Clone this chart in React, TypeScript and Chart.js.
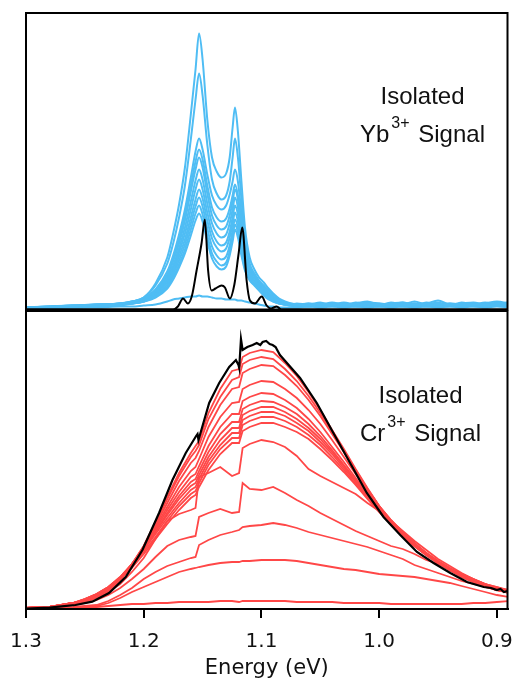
import React, { useEffect, useRef } from "react";
import { Chart, registerables } from "chart.js";

Chart.register(...registerables);

const FONT = '"Liberation Sans", Arial, Helvetica, sans-serif';
const AXIS_FONT = '"DejaVu Sans", "Liberation Sans", Arial, sans-serif';

// x axis (energy, eV), drawn reversed
const X_TICKS = [0.9, 1.0, 1.1, 1.2, 1.3];
const X_MIN = 0.891;
const X_MAX = 1.3;
const X_TITLE = "Energy (eV)";

// ---------- Top panel: Yb3+ signal ----------
const YB_ENERGY = [
  1.30, 1.28, 1.26, 1.24, 1.22, 1.21, 1.20, 1.19, 1.18, 1.175,
  1.17, 1.165, 1.16, 1.156, 1.153, 1.15, 1.146, 1.142, 1.138, 1.134,
  1.13, 1.127, 1.1245, 1.1225, 1.12, 1.117, 1.114, 1.11, 1.106, 1.102,
  1.098, 1.094, 1.09, 1.085, 1.08, 1.075, 1.07, 1.06, 1.05, 1.04,
  1.03, 1.02, 1.01, 1.00, 0.99, 0.98, 0.97, 0.96, 0.95, 0.94,
  0.93, 0.92, 0.91, 0.90, 0.89,
];
const YB_1 = [2,3,4,5,6, 8,12,26,52,76, 105,142,195,240,276, 250,190,152,138,132, 136,152,182,202,178, 128,82,52,40,32, 27,21,16,11,8, 6,5,6,5,7, 5,6,8,5,6, 7,5,6,9,5, 6,7,5,6,7];
const YB_2 = [2,3,4,5,6, 8,12,24,46,66, 92,124,170,210,236, 214,165,130,116,110, 114,128,152,171,152, 110,72,46,36,29, 24,19,15,10,7, 6,5,4,6,5, 7,5,6,4,7, 5,8,5,6,4, 7,5,6,8,6];
const YB_3 = [2,3,4,4,6, 8,11,20,38,54, 75,100,132,158,171, 160,135,114,104,100, 104,115,128,140,128, 96,66,44,35,28, 22,17,13,9,7, 5,6,5,7,4, 6,5,7,6,5, 6,4,7,5,6, 5,6,4,7,5];
const YB_4 = [2,3,3,5,5, 7,11,19,35,50, 70,94,124,148,160, 150,124,102,92,88, 91,101,114,125,114, 86,60,42,34,27, 21,16,12,9,6, 5,4,6,5,6, 4,7,5,5,6, 4,6,5,7,4, 6,5,7,5,6];
const YB_5 = [1,2,4,4,6, 7,10,18,33,48, 66,89,118,140,152, 142,116,94,84,80, 83,94,108,120,110, 82,57,40,33,26, 20,15,11,8,6, 5,5,4,6,5, 5,6,4,6,5, 7,4,5,6,5, 4,6,5,5,7];
const YB_6 = [2,2,3,5,6, 7,10,17,31,44, 61,82,108,129,140, 130,106,86,76,72, 75,86,100,112,102, 76,53,38,31,25, 19,14,10,8,6, 5,4,5,4,6, 5,4,6,5,4, 5,6,4,5,6, 5,4,6,5,5];
const YB_7 = [1,2,3,4,5, 7,9,16,29,41, 57,76,100,120,130, 120,97,78,68,64, 67,78,92,104,95, 71,50,36,29,23, 18,13,10,7,6, 5,5,3,5,4, 6,4,5,4,6, 4,5,3,6,4, 5,4,5,6,4];
const YB_8 = [1,2,3,4,5, 6,9,15,27,38, 53,70,92,110,120, 111,89,71,62,58, 61,72,86,97,88, 66,47,34,28,22, 17,12,9,7,5, 5,4,5,3,5, 4,5,4,5,3, 6,4,5,4,5, 3,5,4,4,5];
const YB_9 = [1,2,3,4,5, 6,8,14,25,36, 49,65,86,103,112, 103,81,63,54,50, 53,64,79,90,82, 61,44,32,26,21, 16,12,9,6,5, 4,4,3,5,4, 3,5,4,4,5, 3,4,5,3,4, 5,3,4,5,4];
const YB_10 = [1,2,3,3,5, 6,8,13,23,33, 45,60,80,96,104, 95,74,56,48,44, 47,58,73,85,77, 57,41,30,25,20, 15,11,8,6,5, 4,3,4,3,4, 5,3,4,3,4, 4,3,5,4,3, 4,5,3,4,4];
const YB_11 = [1,2,2,3,4, 6,8,12,21,30, 42,56,74,89,96, 88,68,51,43,40, 43,54,68,80,72, 54,39,29,24,19, 14,10,8,6,5, 4,3,3,4,3, 4,3,4,3,4, 3,4,3,3,4, 3,4,3,4,3];
const YB_12 = [1,1,2,2,3, 3,4,5,8,10, 11,12,13,13,14, 13,13,12,11,11, 10,10,10,10,9, 9,8,7,6,5, 4,3,3,2,2, 2,2,3,2,3, 2,3,2,3,2, 3,2,3,2,3, 2,3,2,3,2];
const YB_SERIES = [YB_1, YB_2, YB_3, YB_4, YB_5, YB_6, YB_7, YB_8, YB_9, YB_10, YB_11, YB_12];

const YB_BLACK_ENERGY = [1.30, 1.175, 1.171, 1.1666, 1.1625, 1.159, 1.1551, 1.1509, 1.1481, 1.1453, 1.1424, 1.139, 1.1339, 1.131, 1.1268, 1.123, 1.1195, 1.1163, 1.1126, 1.1098, 1.1055, 1.0998, 1.0956, 1.092, 1.0871, 1.083, 0.89];
const YB_BLACK = [0, 0, 3, 11, 6, 14, 39, 66, 90, 39, 19, 21, 24, 22, 11, 25, 55, 82, 29, 9, 6, 13, 4, 1, 3, 0, 0];

// ---------- Bottom panel: Cr3+ signal ----------
const CR_ENERGY = [
  1.30, 1.28, 1.26, 1.25, 1.24, 1.23, 1.22, 1.21, 1.20, 1.19,
  1.18, 1.17, 1.16, 1.156, 1.153, 1.145, 1.135, 1.125, 1.119, 1.116,
  1.11, 1.10, 1.09, 1.08, 1.07, 1.06, 1.05, 1.04, 1.03, 1.02,
  1.01, 1.00, 0.99, 0.98, 0.97, 0.96, 0.95, 0.94, 0.93, 0.92,
  0.91, 0.90, 0.89,
];
const CR_1 = [1,2,6,8,12, 18,28,44,63,87, 112,136,156,163,168, 196,220,238,240,252, 256,259,257,246,233, 217,199,179,160,140, 121,103,89,77,66, 56,48,41,35,30, 25,22,18];
const CR_2 = [1,2,6,9,13, 19,29,45,63,86, 110,133,152,158,164, 190,212,229,232,245, 249,252,250,240,228, 213,196,177,158,139, 120,103,89,76,65, 56,48,41,35,29, 25,21,19];
const CR_3 = [1,2,5,8,12, 19,29,44,62,84, 106,128,146,151,158, 182,204,220,222,236, 240,244,243,234,223, 209,193,175,157,138, 120,103,88,76,65, 55,47,40,34,29, 24,20,17];
const CR_4 = [1,2,6,9,13, 20,30,45,62,82, 102,122,138,142,150, 172,192,206,207,220, 224,228,227,220,211, 199,185,169,152,135, 118,102,88,76,65, 56,47,40,34,28, 24,20,18];
const CR_5 = [1,2,6,9,14, 21,31,45,61,80, 99,117,132,135,143, 163,182,195,195,208, 212,216,215,209,201, 190,177,162,147,131, 115,100,87,75,64, 55,47,40,33,28, 23,20,17];
const CR_6 = [1,2,6,9,14, 21,31,44,60,78, 96,113,127,130,138, 157,175,187,187,200, 204,208,207,202,195, 185,173,159,144,129, 114,99,86,74,64, 55,46,39,33,27, 23,19,17];
const CR_7 = [1,2,6,10,15, 22,32,45,60,77, 94,110,123,126,134, 152,169,181,181,194, 198,202,202,197,190, 181,170,157,143,128, 113,99,86,74,63, 54,46,39,32,27, 23,19,16];
const CR_8 = [1,2,6,10,15, 22,32,45,59,75, 91,106,119,122,130, 148,164,176,176,189, 193,197,197,193,186, 178,167,155,141,127, 112,98,85,74,63, 54,46,39,32,27, 22,19,16];
const CR_9 = [1,2,6,10,15, 22,31,43,57,72, 88,103,115,118,126, 144,160,171,171,184, 188,192,192,188,182, 174,164,152,139,125, 111,97,85,73,63, 54,46,39,33,27, 23,19,17];
const CR_10 = [1,2,5,9,14, 21,30,41,55,70, 85,99,111,114,122, 139,155,166,166,178, 182,186,186,182,177, 170,160,149,137,124, 110,97,85,73,63, 54,46,39,33,28, 23,20,17];
const CR_11 = [1,2,5,7,11, 17,25,37,51,70, 88,95,99,101,132, 136,142,133,136,161, 165,169,167,162,153, 140,133,127,121,115, 106,98,88,78,68, 59,50,43,36,30, 25,21,18];
const CR_12 = [1,2,4,6,9, 14,21,30,40,52, 63,69,72,73,92, 96,100,96,97,126, 120,119,122,116,109, 103,96,90,84,78, 73,68,63,60,55, 49,45,40,35,30, 25,22,19];
const CR_13 = [1,1,2,3,4, 8,14,21,30,37, 43,47,51,52,64, 69,74,77,79,82, 83,84,86,84,81, 77,74,71,68,65, 62,58,54,50,44, 40,36,32,28,25, 22,19,17];
const CR_14 = [0,1,1,2,3, 6,11,17,22,27, 32,37,40,41,42, 44,46,47,47,48, 48,49,49,49,48, 46,44,42,40,39, 37,35,34,33,32, 30,28,26,23,20, 17,14,12];
const CR_15 = [1,1,1,2,2, 3,4,5,5,6, 6,7,7,7,7, 7,8,8,7,8, 8,8,8,8,7, 7,7,7,6,6, 6,6,5,5,5, 5,5,5,5,6, 6,7,8];
const CR_SERIES = [CR_1, CR_2, CR_3, CR_4, CR_5, CR_6, CR_7, CR_8, CR_9, CR_10, CR_11, CR_12, CR_13, CR_14, CR_15];

const CR_BLACK_ENERGY = [1.30, 1.28, 1.272, 1.258, 1.2437, 1.2295, 1.2153, 1.2011, 1.187, 1.1756, 1.1643, 1.1555, 1.1543, 1.1535, 1.1444, 1.1359, 1.1274, 1.1217, 1.1195, 1.1189, 1.1174, 1.116, 1.112, 1.1075, 1.104, 1.101, 1.099, 1.096, 1.093, 1.0905, 1.088, 1.0843, 1.0672, 1.053, 1.0389, 1.0247, 1.0105, 0.9963, 0.9821, 0.9679, 0.9538, 0.9396, 0.9254, 0.9112, 0.905, 0.90, 0.897, 0.894, 0.891];
const CR_BLACK = [0.5, 1.5, 2.3, 4, 7.3, 16, 32, 59, 96, 129, 156, 173, 175, 169, 206, 226, 242, 249, 244, 241, 270, 259, 262, 264, 266, 264, 267, 268, 265, 264, 262, 254, 231, 206, 176, 146, 116, 92, 74, 57, 46, 36, 27, 22, 21, 19, 20, 17, 18];

const YB_LABEL = { line1: "Isolated", ion: "Yb", charge: "3+", word: "Signal" };
const CR_LABEL = { line1: "Isolated", ion: "Cr", charge: "3+", word: "Signal" };

const BLUE = "#4fbdf4";
const RED = "#ff4747";

const toPts = (xs: number[], ys: number[]) => xs.map((x, i) => ({ x, y: ys[i] }));

const framePlugin = {
  id: "frame",
  afterDraw(chart: any) {
    const { ctx, chartArea: a } = chart;
    ctx.save();
    ctx.strokeStyle = "#000";
    ctx.lineWidth = 2;
    ctx.strokeRect(a.left, a.top, a.right - a.left, a.bottom - a.top);
    ctx.restore();
  },
};

function makeLabelPlugin(label: any, dx: number, dy: number) {
  return {
    id: "signalLabel",
    afterDraw(chart: any) {
      const { ctx, chartArea: a } = chart;
      ctx.save();
      ctx.fillStyle = "#111";
      ctx.textBaseline = "alphabetic";
      ctx.font = `24px ${FONT}`;
      ctx.textAlign = "center";
      const cx = a.right + dx;
      const by = a.top + dy;
      ctx.fillText(label.line1, cx, by);
      ctx.textAlign = "left";
      const ionW = ctx.measureText(label.ion).width;
      ctx.font = `16px ${FONT}`;
      const chW = ctx.measureText(label.charge).width;
      ctx.font = `24px ${FONT}`;
      const spW = ctx.measureText(" ").width;
      const wordW = ctx.measureText(label.word).width;
      const total = ionW + 2 + chW + spW + 2 + wordW;
      let x = cx - total / 2;
      const by2 = by + 37.5;
      ctx.fillText(label.ion, x, by2);
      x += ionW + 2;
      ctx.font = `16px ${FONT}`;
      ctx.fillText(label.charge, x, by2 - 14);
      x += chW + spW + 2;
      ctx.font = `24px ${FONT}`;
      ctx.fillText(label.word, x, by2);
      ctx.restore();
    },
  };
}

function baseX(show: boolean) {
  return {
    type: "linear" as const,
    reverse: true,
    min: X_MIN,
    max: X_MAX,
    display: show,
    afterBuildTicks: (s: any) => {
      s.ticks = X_TICKS.map((v) => ({ value: v }));
    },
    afterFit: (s: any) => {
      if (show) s.height = 72;
      s.paddingLeft = 0;
      s.paddingRight = 0;
    },
    ticks: {
      callback: (v: any) => Number(v).toFixed(1),
      color: "#111",
      font: { family: AXIS_FONT, size: 20 },
      padding: 12,
      maxRotation: 0,
      autoSkip: false,
    },
    grid: {
      display: true,
      drawOnChartArea: false,
      drawTicks: true,
      tickLength: 9,
      color: "#000",
      lineWidth: 2,
    },
    border: { display: true, color: "#000", width: 2 },
    title: {
      display: true,
      text: X_TITLE,
      color: "#111",
      font: { family: AXIS_FONT, size: 21 },
      padding: 0,
    },
  };
}

function TopPanel() {
  const ref = useRef<HTMLCanvasElement | null>(null);
  useEffect(() => {
    if (!ref.current) return;
    const datasets: any[] = [
      {
        data: toPts(YB_BLACK_ENERGY, YB_BLACK),
        borderColor: "#000",
        borderWidth: 2,
        pointRadius: 0,
        cubicInterpolationMode: "monotone",
      },
      ...YB_SERIES.map((s) => ({
        data: toPts(YB_ENERGY, s),
        borderColor: BLUE,
        borderWidth: 2,
        pointRadius: 0,
        cubicInterpolationMode: "monotone",
      })),
    ];
    const chart = new Chart(ref.current, {
      type: "line",
      data: { datasets },
      options: {
        animation: false,
        responsive: false,
        devicePixelRatio: 1,
        events: [],
        layout: { padding: { left: 26, right: 6.5, top: 13, bottom: 2.5 } },
        plugins: { legend: { display: false }, tooltip: { enabled: false } },
        scales: {
          x: baseX(false) as any,
          y: { type: "linear", min: 0, max: 296.5, display: false },
        },
      },
      plugins: [framePlugin, makeLabelPlugin(YB_LABEL, -85, 91)],
    });
    return () => chart.destroy();
  }, []);
  return (
    <canvas
      ref={ref}
      width={514}
      height={312}
      style={{ position: "absolute", left: 0, top: 0, width: 514, height: 312 }}
    />
  );
}

function BottomPanel() {
  const ref = useRef<HTMLCanvasElement | null>(null);
  useEffect(() => {
    if (!ref.current) return;
    const datasets: any[] = [
      {
        data: toPts(CR_BLACK_ENERGY, CR_BLACK),
        borderColor: "#000",
        borderWidth: 2.2,
        pointRadius: 0,
        tension: 0,
      },
      ...CR_SERIES.map((s) => ({
        data: toPts(CR_ENERGY, s),
        borderColor: RED,
        borderWidth: 1.8,
        pointRadius: 0,
        tension: 0,
      })),
    ];
    const chart = new Chart(ref.current, {
      type: "line",
      data: { datasets },
      options: {
        animation: false,
        responsive: false,
        devicePixelRatio: 1,
        events: [],
        layout: { padding: { left: 26, right: 6.5, top: 11, bottom: 0 } },
        plugins: { legend: { display: false }, tooltip: { enabled: false } },
        scales: {
          x: baseX(true) as any,
          y: { type: "linear", min: 0, max: 298, display: false },
        },
      },
      plugins: [framePlugin, makeLabelPlugin(CR_LABEL, -87, 92)],
    });
    return () => chart.destroy();
  }, []);
  return (
    <canvas
      ref={ref}
      width={514}
      height={381}
      style={{ position: "absolute", left: 0, top: 300, width: 514, height: 381 }}
    />
  );
}

export default function App() {
  return (
    <div
      style={{
        position: "absolute",
        left: 0,
        top: 0,
        width: 514,
        height: 681,
        background: "#fff",
        overflow: "hidden",
      }}
    >
      <TopPanel />
      <BottomPanel />
    </div>
  );
}
